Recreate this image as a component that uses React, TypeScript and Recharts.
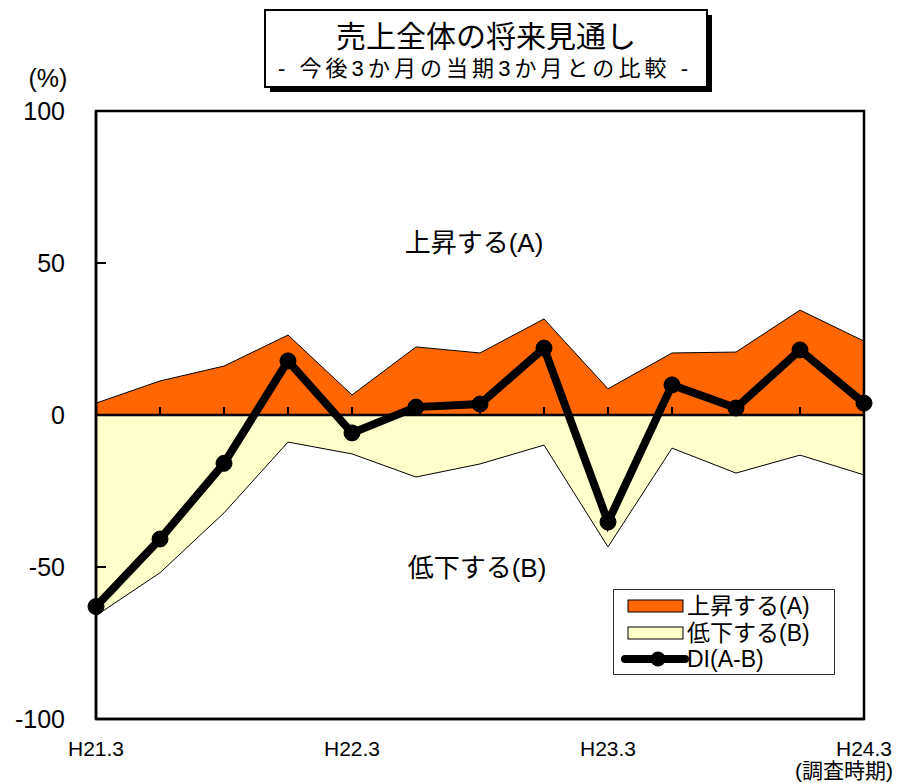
import { ComposedChart, Area, Line, XAxis, YAxis, ReferenceLine, ReferenceArea, Legend } from 'recharts';

// 調査時期 (四半期)
const periods = ['H21.3', 'H21.6', 'H21.9', 'H21.12', 'H22.3', 'H22.6', 'H22.9', 'H22.12', 'H23.3', 'H23.6', 'H23.9', 'H23.12', 'H24.3'];
// 上昇する(A)
const riseValues = [3.9, 11.2, 16.1, 26.3, 6.6, 22.4, 20.4, 31.6, 8.6, 20.4, 20.7, 34.5, 24.3];
// 低下する(B) (マイナス表示)
const fallValues = [-66, -51.9, -32.2, -8.9, -12.8, -20.4, -16.1, -9.9, -43.4, -10.9, -19.1, -13.2, -19.7];
// DI(A-B)
const diValues = [-63, -40.8, -15.9, 17.8, -5.9, 2.6, 3.6, 22, -35.2, 9.9, 2.3, 21.4, 3.9];

const yTicks = [-100, -50, 0, 50, 100];

const data = periods.map((p, i) => ({ period: p, rise: riseValues[i], fall: fallValues[i], di: diValues[i] }));

const FONT = '"Liberation Sans", Arial, "Noto Sans CJK JP", sans-serif';

const YTick = (props: any) => {
  const { x, y, payload } = props;
  return (
    <g>
      <line x1={x + 31} x2={x + 41} y1={y} y2={y} stroke="#000" strokeWidth={2} />
      <text x={x} y={y} textAnchor="end" dominantBaseline="central" fontSize={25} fill="#000" fontFamily={FONT}>
        {payload.value}
      </text>
    </g>
  );
};

const XTick = (props: any) => {
  const { x, y, payload } = props;
  return (
    <text x={x} y={y + 37} textAnchor="middle" fontSize={21} fill="#000" fontFamily={FONT}>
      {payload.value}
    </text>
  );
};

const LegendBox = () => (
  <div style={{ width: 222, height: 86, border: '1.5px solid #333', boxSizing: 'border-box', background: '#fff' }}>
    <svg width={220} height={84} style={{ display: 'block' }}>
      <rect x={14} y={10} width={55} height={12} fill="#FF6600" stroke="#000" strokeWidth={1} />
      <text x={73} y={16} dominantBaseline="central" fontSize={23} fontFamily={FONT} fill="#000">上昇する(A)</text>
      <rect x={14} y={37} width={55} height={12} fill="#FFFFCC" stroke="#000" strokeWidth={1} />
      <text x={73} y={43} dominantBaseline="central" fontSize={23} fontFamily={FONT} fill="#000">低下する(B)</text>
      <line x1={11} x2={71} y1={69} y2={69} stroke="#000" strokeWidth={8} strokeLinecap="round" />
      <circle cx={44} cy={69} r={7.5} fill="#000" />
      <text x={73} y={69} dominantBaseline="central" fontSize={23} fontFamily={FONT} fill="#000">DI(A-B)</text>
    </svg>
  </div>
);

export default function App() {
  return (
    <div style={{ position: 'absolute', left: 0, top: 0, width: 898, height: 783, background: '#fff', fontFamily: FONT }}>
      <ComposedChart width={898} height={783} data={data} margin={{ top: 111, right: 34, left: 0, bottom: 0 }}>
        <XAxis
          dataKey="period"
          scale="point"
          padding={{ left: 0, right: 0 }}
          interval={3}
          tickLine={false}
          tickSize={0}
          tickMargin={0}
          height={64}
          axisLine={{ stroke: '#000', strokeWidth: 2.5 }}
          tick={<XTick />}
        />
        <YAxis
          domain={[-100, 100]}
          ticks={yTicks}
          width={96}
          tickLine={false}
          tickSize={0}
          tickMargin={31}
          axisLine={{ stroke: '#000', strokeWidth: 2.5 }}
          tick={<YTick />}
        />
        <Area dataKey="rise" baseValue={0} type="linear" fill="#FF6600" fillOpacity={1} stroke="#000" strokeWidth={1} isAnimationActive={false} />
        <Area dataKey="fall" baseValue={0} type="linear" fill="#FFFFCC" fillOpacity={1} stroke="#000" strokeWidth={1} isAnimationActive={false} />
        <ReferenceArea x1={periods[0]} x2={periods[periods.length - 1]} y1={-100} y2={100} fill="none" fillOpacity={0} stroke="#000" strokeWidth={2.5} ifOverflow="visible" />
        <ReferenceLine y={0} stroke="#000" strokeWidth={2.5} />
        {periods.map((p) => (
          <ReferenceLine key={p} segment={[{ x: p, y: 0 }, { x: p, y: 2.6 }]} stroke="#000" strokeWidth={2} />
        ))}
        <Line
          dataKey="di"
          type="linear"
          stroke="#000"
          strokeWidth={8}
          dot={{ r: 8, fill: '#000', stroke: '#000', strokeWidth: 1 }}
          activeDot={false}
          isAnimationActive={false}
        />
        <Legend
          layout="horizontal"
          verticalAlign="middle"
          align="center"
          content={<LegendBox />}
          wrapperStyle={{ left: 613, top: 589, width: 222, height: 86 }}
        />
      </ComposedChart>

      <svg width={898} height={783} style={{ position: 'absolute', left: 0, top: 0, pointerEvents: 'none' }}>
        <rect x={270} y={15} width={442} height={77} fill="#000" />
        <rect x={265} y={10} width={442} height={77} fill="#fff" stroke="#000" strokeWidth={2} />
        <text x={486} y={36} textAnchor="middle" dominantBaseline="central" fontSize={30} fontFamily={FONT} fill="#000">
          売上全体の将来見通し
        </text>
        <text x={483} y={68} textAnchor="middle" dominantBaseline="central" fontSize={22} fontFamily={FONT} fill="#000" textLength={410} lengthAdjust="spacing">
          - 今後3か月の当期3か月との比較 -
        </text>
        <text x={48} y={78} textAnchor="middle" dominantBaseline="central" fontSize={25} fontFamily={FONT} fill="#000">(%)</text>
        <text x={474} y={243} textAnchor="middle" dominantBaseline="central" fontSize={26} fontFamily={FONT} fill="#000">上昇する(A)</text>
        <text x={477} y={568} textAnchor="middle" dominantBaseline="central" fontSize={26} fontFamily={FONT} fill="#000">低下する(B)</text>
        <text x={893} y={770} textAnchor="end" dominantBaseline="central" fontSize={21} fontFamily={FONT} fill="#000">(調査時期)</text>
      </svg>
    </div>
  );
}
